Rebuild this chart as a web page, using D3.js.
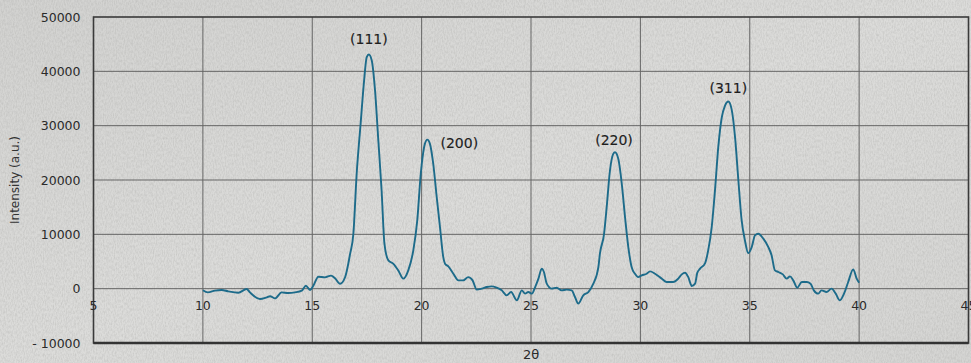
<!DOCTYPE html>
<html>
<head>
<meta charset="utf-8">
<script src="https://cdn.jsdelivr.net/npm/d3@7"></script>
<style>
  html, body { margin: 0; padding: 0; background: #d7d7d5; }
  svg { display: block; }
</style>
</head>
<body>
<figure id="xrd" style="margin:0"></figure>
<script>
// XRD pattern: 2θ (deg) and intensity (a.u.)
const twoTheta = [
  10.0, 10.23, 10.55, 10.86, 11.16, 11.62, 12.0, 12.15, 12.61, 12.92, 13.07, 13.3, 13.6, 13.9,
  14.21, 14.52, 14.71, 14.9, 15.05, 15.28, 15.58, 15.86, 16.04, 16.27, 16.5, 16.73, 16.88,
  17.03, 17.21, 17.37, 17.49, 17.59, 17.72, 17.87, 18.02, 18.17, 18.3, 18.48, 18.7, 18.93,
  19.16, 19.39, 19.62, 19.8, 19.96, 20.15, 20.26, 20.38, 20.53, 20.69, 20.84, 20.99, 21.07,
  21.22, 21.45, 21.68, 21.9, 22.13, 22.33, 22.52, 22.75, 22.98, 23.2, 23.43, 23.66, 23.89,
  24.09, 24.35, 24.58, 24.73, 24.88, 25.04, 25.19, 25.34, 25.49, 25.59, 25.72, 25.95, 26.17,
  26.4, 26.63, 26.86, 27.01, 27.16, 27.39, 27.62, 27.85, 28.08, 28.15, 28.34, 28.46, 28.61,
  28.76, 28.84, 28.99, 29.15, 29.3, 29.45, 29.6, 29.75, 29.9, 30.06, 30.29, 30.44, 30.67,
  30.98, 31.2, 31.5, 31.73, 31.89, 32.04, 32.19, 32.35, 32.5, 32.6, 32.73, 32.96, 33.1,
  33.26, 33.41, 33.56, 33.72, 33.87, 34.02, 34.17, 34.33, 34.48, 34.63, 34.78, 34.93, 35.09,
  35.24, 35.39, 35.62, 35.85, 36.0, 36.15, 36.31, 36.51, 36.69, 36.84, 36.99, 37.17, 37.38,
  37.6, 37.78, 37.93, 38.13, 38.28, 38.51, 38.74, 38.93, 39.12, 39.31, 39.5, 39.73, 39.89, 40.0
];
const intensity = [
  -300, -680, -370, -250, -500, -740, -60, -680, -1900, -1600, -1400, -1780, -680, -800,
  -680, -370, 550, -250, 550, 2200, 2080, 2400, 1900, 900, 2100, 6400, 10100,
  21100, 30300, 38300, 42600, 43100, 42000, 36500, 27300, 18100, 8300, 5200, 4600, 3370,
  1840, 3370, 7040, 12550, 21100, 26650, 27440, 26650, 23000, 16840, 11300, 5800, 4600,
  4100, 2750, 1530, 1530, 2130, 1530, -180, 0, 300, 420, 180, -310, -1230,
  -620, -2150, -310, -920, -620, -920, 300, 1840, 3680, 3070, 920, 0, 180,
  -310, -180, -310, -1530, -2750, -1230, -620, 920, 3970, 6430, 10100, 15000, 21750,
  24800, 25100, 23900, 19300, 13100, 7600, 3970, 2750, 2130, 2440, 2750, 3180, 2750,
  1840, 1220, 1220, 1840, 2630, 2940, 2130, 500, 920, 2900, 3680, 4720, 7040,
  11300, 18050, 26000, 31500, 33700, 34450, 33050, 27800, 19900, 12550, 8870, 6550, 7650,
  9800, 10100, 9200, 7650, 6120, 3370, 3070, 2630, 1840, 2260, 1530, 180, 1220,
  1220, 920, -310, -920, -310, -620, 0, -920, -2150, -920, 1220, 3550, 1840, 1100
];

// peak labels (Miller indices)
const peakLabels = ["(111)", "(200)", "(220)", "(311)"];
const peakX = [17.59, 20.26, 28.84, 34.02];
const peakY = [43100, 27440, 25100, 34450];

const xTicks = [5, 10, 15, 20, 25, 30, 35, 40, 45];
const yTicks = [-10000, 0, 10000, 20000, 30000, 40000, 50000];

const width = 971, height = 363;
const plotLeft = 93.5, plotRight = 968.5, plotTop = 17, plotBottom = 343;

const svg = d3.select("figure#xrd")
  .append("svg")
  .attr("width", width)
  .attr("height", height)
  .attr("viewBox", [0, 0, width, height]);

// concrete-ish backdrop
const defs = svg.append("defs");
const f = defs.append("filter").attr("id", "grain")
  .attr("x", 0).attr("y", 0).attr("width", "100%").attr("height", "100%");
f.append("feTurbulence").attr("type", "fractalNoise")
  .attr("baseFrequency", "0.9 0.35").attr("numOctaves", 3).attr("seed", 7);
f.append("feColorMatrix").attr("type", "matrix")
  .attr("values", "0 0 0 0 0.35  0 0 0 0 0.35  0 0 0 0 0.34  0 0 0 -1.6 1.05");

const grad = defs.append("linearGradient").attr("id", "bg")
  .attr("x1", 0).attr("x2", 1).attr("y1", 0).attr("y2", 1);
grad.append("stop").attr("offset", 0).attr("stop-color", "#d2d2d0");
grad.append("stop").attr("offset", 0.5).attr("stop-color", "#dcdcda");
grad.append("stop").attr("offset", 1).attr("stop-color", "#d5d5d3");

svg.append("rect").attr("width", width).attr("height", height).attr("fill", "url(#bg)");
svg.append("rect").attr("width", width).attr("height", height)
  .attr("filter", "url(#grain)").attr("opacity", 0.35);

const x = d3.scaleLinear().domain([5, 45]).range([plotLeft, plotRight]);
const y = d3.scaleLinear().domain([-10000, 50000]).range([plotBottom, plotTop]);

// grid
const grid = svg.append("g").attr("stroke", "#4a4a4a").attr("stroke-width", 1).attr("opacity", 0.8);
grid.selectAll("line.v")
  .data(xTicks.filter(d => d > 5 && d < 45))
  .join("line")
  .attr("class", "v")
  .attr("x1", d => x(d)).attr("x2", d => x(d))
  .attr("y1", plotTop).attr("y2", plotBottom);
grid.selectAll("line.h")
  .data(yTicks.filter(d => d > -10000 && d < 50000))
  .join("line")
  .attr("class", "h")
  .attr("x1", plotLeft).attr("x2", plotRight)
  .attr("y1", d => y(d)).attr("y2", d => y(d));

// frame
svg.append("rect")
  .attr("x", plotLeft).attr("y", plotTop)
  .attr("width", plotRight - plotLeft).attr("height", plotBottom - plotTop)
  .attr("fill", "none").attr("stroke", "#3a3a3a").attr("stroke-width", 1.6);
svg.append("line")
  .attr("x1", plotLeft).attr("x2", plotRight).attr("y1", plotBottom).attr("y2", plotBottom)
  .attr("stroke", "#333").attr("stroke-width", 2.4);

// axes labels
svg.append("g")
  .attr("font-family", "DejaVu Sans, sans-serif").attr("font-size", 12.5).attr("fill", "#2a2a2a")
  .attr("text-anchor", "end")
  .selectAll("text")
  .data(yTicks)
  .join("text")
  .attr("x", plotLeft - 13)
  .attr("y", d => y(d))
  .attr("dy", "0.36em")
  .text(d => d < 0 ? "- " + Math.abs(d) : String(d));

svg.append("g")
  .attr("font-family", "DejaVu Sans, sans-serif").attr("font-size", 12.5).attr("fill", "#2a2a2a")
  .attr("text-anchor", "middle")
  .selectAll("text")
  .data(xTicks)
  .join("text")
  .attr("x", d => x(d))
  .attr("y", y(0) + 21)
  .text(d => d);

svg.append("text")
  .attr("transform", `translate(19,${(plotTop + plotBottom) / 2}) rotate(-90)`)
  .attr("text-anchor", "middle")
  .attr("font-family", "DejaVu Sans, sans-serif").attr("font-size", 12).attr("fill", "#333")
  .text("Intensity (a.u.)");

svg.append("text")
  .attr("x", x(25)).attr("y", 359)
  .attr("text-anchor", "middle")
  .attr("font-family", "DejaVu Sans, sans-serif").attr("font-size", 13).attr("fill", "#2a2a2a")
  .text("2θ");

// pattern
const pts = twoTheta.map((t, i) => [t, intensity[i]]);
const line = d3.line()
  .x(d => x(d[0]))
  .y(d => y(d[1]))
  .curve(d3.curveMonotoneX);

svg.append("path")
  .datum(pts)
  .attr("fill", "none")
  .attr("stroke", "#1d6b8a")
  .attr("stroke-width", 1.9)
  .attr("stroke-linejoin", "round")
  .attr("d", line);

// peak annotations
const labelDx = [0, 32, -1, 0];
const labelDy = [-10, 8, -7, -8];
svg.append("g")
  .attr("font-family", "DejaVu Sans, sans-serif").attr("font-size", 14)
  .attr("fill", "#1e1e1e").attr("stroke", "#1e1e1e").attr("stroke-width", 0.15)
  .attr("text-anchor", "middle")
  .selectAll("text")
  .data(peakLabels)
  .join("text")
  .attr("x", (d, i) => x(peakX[i]) + labelDx[i])
  .attr("y", (d, i) => y(peakY[i]) + labelDy[i])
  .text(d => d);
</script>
</body>
</html>
